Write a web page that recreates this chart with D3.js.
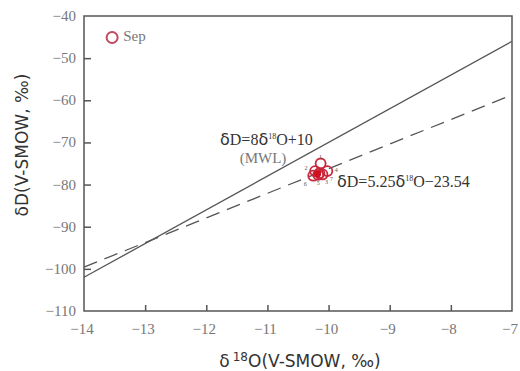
<!doctype html>
<html>
<head>
  <meta charset="utf-8">
  <script src="https://d3js.org/d3.v7.min.js"></script>
  <style>
    body { margin:0; background:#fff; }
    svg { display:block; }
    .tick-lab { font-family:"Liberation Serif", serif; font-size:15px; fill:#777; }
    .title { font-family:"DejaVu Sans", sans-serif; font-size:17px; fill:#333; }
    .eq { font-family:"Liberation Serif", serif; font-size:16px; fill:#333; }
  </style>
</head>
<body>
<svg id="chart" width="520" height="371"></svg>
<script>
  // data
  const xTicks = [-14, -13, -12, -11, -10, -9, -8, -7];
  const yTicks = [-40, -50, -60, -70, -80, -90, -100, -110];
  const sepPoint = [-13.54, -45.1];
  const clusterX = [-10.13, -10.22, -10.10, -10.02, -10.17, -10.25, -10.15];
  const clusterY = [-75.0, -76.8, -77.6, -76.8, -77.7, -77.9, -77.3];
  const clusterLab = ["1", "2", "3", "4", "5", "6", "7"];
  const mwlX = [-14, -7];
  const mwlY = [-102, -46];
  const fitX = [-14, -7.1];
  const fitY = [-99.6, -59.3];

  const svg = d3.select("#chart");
  const L = 84, R = 512, T = 16, B = 311;
  const x = d3.scaleLinear().domain([-14, -7]).range([L, R]);
  const y = d3.scaleLinear().domain([-110, -40]).range([B, T]);

  // frame
  svg.append("rect").attr("x", L).attr("y", T).attr("width", R - L).attr("height", B - T)
    .attr("fill", "none").attr("stroke", "#555").attr("stroke-width", 1.5);

  // inward ticks
  svg.append("g").attr("transform", `translate(0,${B})`)
    .call(d3.axisBottom(x).tickValues(xTicks.slice(1, -1)).tickSizeInner(-6).tickSizeOuter(0).tickFormat(""))
    .call(g => g.select(".domain").remove())
    .call(g => g.selectAll("line").attr("stroke", "#555").attr("stroke-width", 1.5));
  svg.append("g").attr("transform", `translate(${L},0)`)
    .call(d3.axisLeft(y).tickValues(yTicks.slice(1, -1)).tickSizeInner(-7).tickSizeOuter(0).tickFormat(""))
    .call(g => g.select(".domain").remove())
    .call(g => g.selectAll("line").attr("stroke", "#555").attr("stroke-width", 1.5));

  // tick labels
  const fmt = v => "\u2212" + Math.abs(v);
  svg.selectAll(".xl").data(xTicks).join("text").attr("class", "tick-lab")
    .attr("x", d => x(d) - 2).attr("y", 334).attr("text-anchor", "middle").text(fmt);
  svg.selectAll(".yl").data(yTicks).join("text").attr("class", "tick-lab")
    .attr("x", 76).attr("y", d => y(d) + 5).attr("text-anchor", "end").text(fmt);

  // axis titles
  const xt = svg.append("text").attr("class", "title").attr("x", 300).attr("y", 367).attr("text-anchor", "middle");
  xt.append("tspan").text("\u03b4");
  xt.append("tspan").attr("font-size", 12).attr("dy", -6).attr("dx", 3).text("18");
  xt.append("tspan").attr("dy", 6).text("O(V-SMOW, \u2030)");
  svg.append("text").attr("class", "title")
    .attr("transform", "translate(28,145) rotate(-90)").attr("text-anchor", "middle")
    .text("\u03b4D(V-SMOW, \u2030)");

  // lines
  const line = d3.line().x(d => x(d[0])).y(d => y(d[1]));
  svg.append("path").attr("d", line(d3.zip(mwlX, mwlY)))
    .attr("fill", "none").attr("stroke", "#555").attr("stroke-width", 1.3);
  svg.append("path").attr("d", line(d3.zip(fitX, fitY)))
    .attr("fill", "none").attr("stroke", "#555").attr("stroke-width", 1.3)
    .attr("stroke-dasharray", "14,8");

  // points
  const red = "#c8283c";
  svg.append("circle").attr("cx", x(sepPoint[0])).attr("cy", y(sepPoint[1])).attr("r", 5.5)
    .attr("fill", "none").attr("stroke", "#c04a5e").attr("stroke-width", 2);
  svg.append("text").attr("class", "tick-lab").attr("font-size", 13)
    .attr("x", x(sepPoint[0]) + 11).attr("y", y(sepPoint[1]) + 4).text("Sep");

  const pts = d3.zip(clusterX, clusterY, clusterLab);
  svg.selectAll(".pt").data(pts).join("circle")
    .attr("cx", d => x(d[0])).attr("cy", d => y(d[1])).attr("r", 5)
    .attr("fill", "none").attr("stroke", red).attr("stroke-width", 1.8);
  svg.append("circle").attr("cx", x(-10.18)).attr("cy", y(-77.5)).attr("r", 3.5)
    .attr("fill", "#d01020");
  // label placement [dx, dy] relative to each point
  const offs = { "1": [0, -7], "2": [-9, -3], "3": [4, 8], "4": [9, -1], "5": [0, 8], "6": [-8, 8], "7": [12, 6] };
  svg.selectAll(".pl").data(pts).join("text")
    .attr("font-family", "Liberation Serif, serif").attr("font-size", 6).attr("fill", "#555")
    .attr("text-anchor", "middle")
    .attr("x", d => x(d[0]) + offs[d[2]][0]).attr("y", d => y(d[1]) + offs[d[2]][1] + 2)
    .text(d => d[2]);

  // equations
  function equation(px, py, parts) {
    const t = svg.append("text").attr("class", "eq").attr("x", px).attr("y", py);
    parts.forEach(p => {
      const s = t.append("tspan").text(p.t);
      if (p.sans) s.attr("font-family", "DejaVu Sans, sans-serif").attr("font-size", 16);
      if (p.sup) s.attr("font-size", 8).attr("dy", -6);
      if (p.down) s.attr("dy", 6);
    });
  }
  equation(220, 145, [{ t: "\u03b4", sans: true }, { t: "D=8" }, { t: "\u03b4", sans: true },
    { t: "18", sup: true }, { t: "O+10", down: true }]);
  svg.append("text").attr("class", "tick-lab").attr("font-size", 11)
    .attr("x", 263).attr("y", 163).attr("text-anchor", "middle").text("(MWL)");
  equation(337, 187, [{ t: "\u03b4", sans: true }, { t: "D=5.25" }, { t: "\u03b4", sans: true },
    { t: "18", sup: true }, { t: "O\u221223.54", down: true }]);
</script>
</body>
</html>
